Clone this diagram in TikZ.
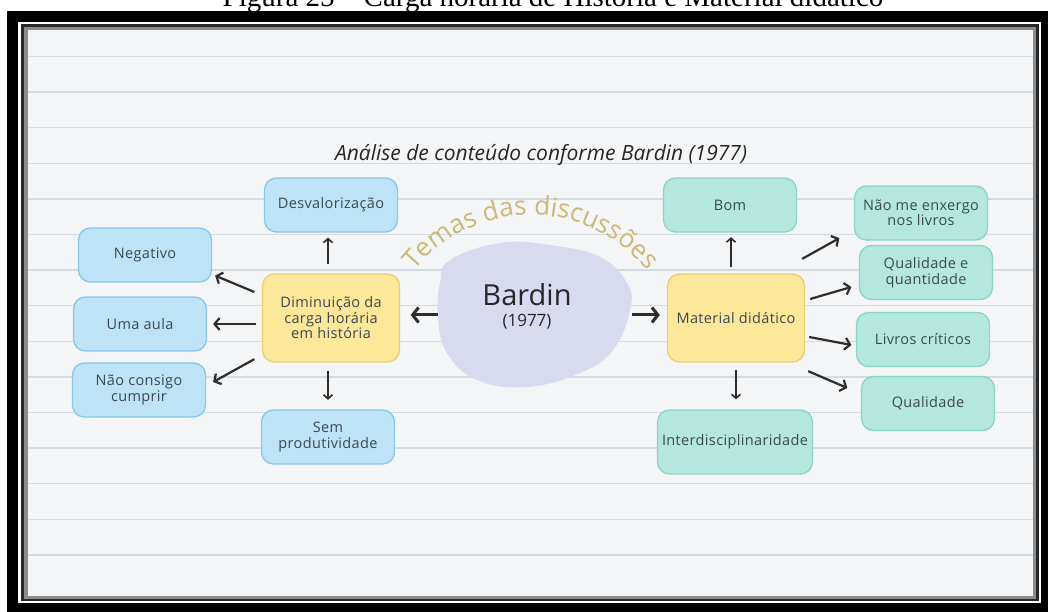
\documentclass[tikz,border=0pt]{standalone}
\usepackage{fontspec}
\setmainfont{Open Sans}
\newfontfamily\capfont{Liberation Serif}
\newfontfamily\boxfont[LetterSpace=2.5]{Open Sans}
\usepackage{tikz}
\usetikzlibrary{arrows.meta, decorations.text}
\definecolor{paperbg}{RGB}{243,245,247}
\definecolor{paperline}{RGB}{211,219,228}
\definecolor{boxblue}{RGB}{190,227,247}
\definecolor{boxblueline}{RGB}{135,199,235}
\definecolor{boxteal}{RGB}{180,232,222}
\definecolor{boxtealline}{RGB}{140,213,196}
\definecolor{boxyellow}{RGB}{253,231,153}
\definecolor{boxyellowline}{RGB}{236,206,116}
\definecolor{blobfill}{RGB}{216,219,240}
\definecolor{temagold}{RGB}{205,184,118}
\definecolor{inkgray}{RGB}{60,72,80}
\definecolor{arrowgray}{RGB}{45,45,45}

\begin{document}
\begin{tikzpicture}[x=1pt, y=1pt,
  box/.style={rounded corners=12pt, line width=1.3pt, align=center, text=inkgray,
    font=\boxfont\fontsize{14.5}{15.5}\selectfont, inner sep=3pt},
  bluebox/.style={box, draw=boxblueline, fill=boxblue, minimum width=133pt, minimum height=54pt},
  tealbox/.style={box, draw=boxtealline, fill=boxteal, minimum width=133pt, minimum height=54pt},
  yellowbox/.style={box, draw=boxyellowline, fill=boxyellow, minimum width=137pt, minimum height=88pt},
  arr/.style={-{Straight Barb[length=5pt,width=12pt]}, line width=2.2pt, draw=arrowgray},
  thinarr/.style={arr, line width=1.6pt, -{Straight Barb[length=4pt,width=9pt]}},
  thickarr/.style={arr, line width=3pt, -{Straight Barb[length=6pt,width=15pt]}}
]
\useasboundingbox (0,0) rectangle (1048,612);
\fill[white] (0,0) rectangle (1048,612);

% frame and paper
\fill[black] (7,0) rectangle (1048,601);
\fill[white] (18,9) rectangle (1041,590);
\fill[black!85] (21,11) rectangle (1039,588);
\fill[black!45] (24,13) rectangle (1036,585);
\fill[paperbg] (28,16) rectangle (1033,582);
\foreach \k in {0,...,14}
  \draw[paperline, line width=1.5pt] (28,{555.5-35.6*\k}) -- (1033,{555.5-35.6*\k});

\node[anchor=base, font=\capfont\fontsize{29}{32}\selectfont] (caption) at (553,605)
  {Figura 25 – Carga horária de História e Material didático};

\node[font=\itshape\fontsize{21}{24}\selectfont, text=black!85] (title) at (541,457)
  {Análise de conteúdo conforme Bardin (1977)};

% centre
\coordinate (bc) at (535,297);
\fill[blobfill, shift={(bc)}] plot[smooth cycle, tension=0.7] coordinates
  {(-85,55) (-35,72) (15,70) (65,58) (92,32) (95,5) (78,-35) (45,-58) (-8,-72) (-58,-65) (-88,-38) (-97,-2) (-95,32)};
\node[minimum width=194pt, minimum height=144pt] (bardin) at (bc) {};
\node[align=center, text=black!85, font=\fontsize{29}{21}\selectfont] (bardinlbl) at (527,306)
  {Bardin\\{\fontsize{17}{21}\selectfont(1977)}};
\path[decorate, decoration={text along path, text align=center,
    text={|\fontsize{26}{26}\selectfont\color{temagold}|Temas das discussões}}]
  ([shift={(-4,-50)}]bc) ++(155:150) arc[start angle=155, end angle=25, radius=150];

% left side
\node[bluebox] (desv) at (331,407) {Desvalorização};
\node[bluebox] (neg) at (145,357) {Negativo};
\node[bluebox] (uma) at (140,288) {Uma aula};
\node[bluebox] (nao) at (139,222) {Não consigo\\cumprir};
\node[yellowbox] (dim) at (331,294) {Diminuição da\\carga horária\\em história};
\node[bluebox] (sem) at (328,175) {Sem\\produtividade};

% right side
\node[tealbox] (bom) at (730,407) {Bom};
\node[yellowbox] (mat) at (736,294) {Material didático};
\node[tealbox, minimum width=155pt, minimum height=64pt] (inter) at (735,170) {Interdisciplinaridade};
\node[tealbox] (enx) at (921,399) {Não me enxergo\\nos livros};
\node[tealbox] (qq) at (926,339.5) {Qualidade e\\quantidade};
\node[tealbox] (liv) at (923,272.5) {Livros críticos};
\node[tealbox] (qual) at (928,208.5) {Qualidade};

% arrows
\draw[thickarr] (bardin.west) -- ([shift={(10.5,3)}]dim.east);
\draw[thickarr] (bardin.east) -- ([shift={(-7,3)}]mat.west);
\draw[thinarr] ([shift={(-3,9.5)}]dim.north) -- ([shift={(-3,-5)}]desv.south);
\draw[arr] ([shift={(-7.5,26)}]dim.west) -- ([shift={(3,7)}]neg.south east);
\draw[arr] ([shift={(-5.5,-6)}]dim.west) -- ([shift={(6,0)}]uma.east);
\draw[arr] ([shift={(-7.5,3.5)}]dim.south west) -- ([shift={(7,8)}]nao.east);
\draw[thinarr] ([shift={(-3,-8.5)}]dim.south) -- ([shift={(0,9.5)}]sem.north);
\draw[thinarr] ([shift={(-5,6.5)}]mat.north) -- ([shift={(1,-4.5)}]bom.south);
\draw[thinarr] ([shift={(0,-7.5)}]mat.south) -- ([shift={(1,10)}]inter.north);
\draw[arr] ([shift={(-3,14.5)}]mat.north east) -- ([shift={(-14.5,2.5)}]enx.south west);
\draw[arr] ([shift={(5,19)}]mat.east) -- ([shift={(-7.5,-14.5)}]qq.west);
\draw[arr] ([shift={(4,-19)}]mat.east) -- ([shift={(-4.5,-5.5)}]liv.west);
\draw[arr] ([shift={(3,-8.5)}]mat.south east) -- ([shift={(-13.5,15.5)}]qual.west);
\end{tikzpicture}
\end{document}
